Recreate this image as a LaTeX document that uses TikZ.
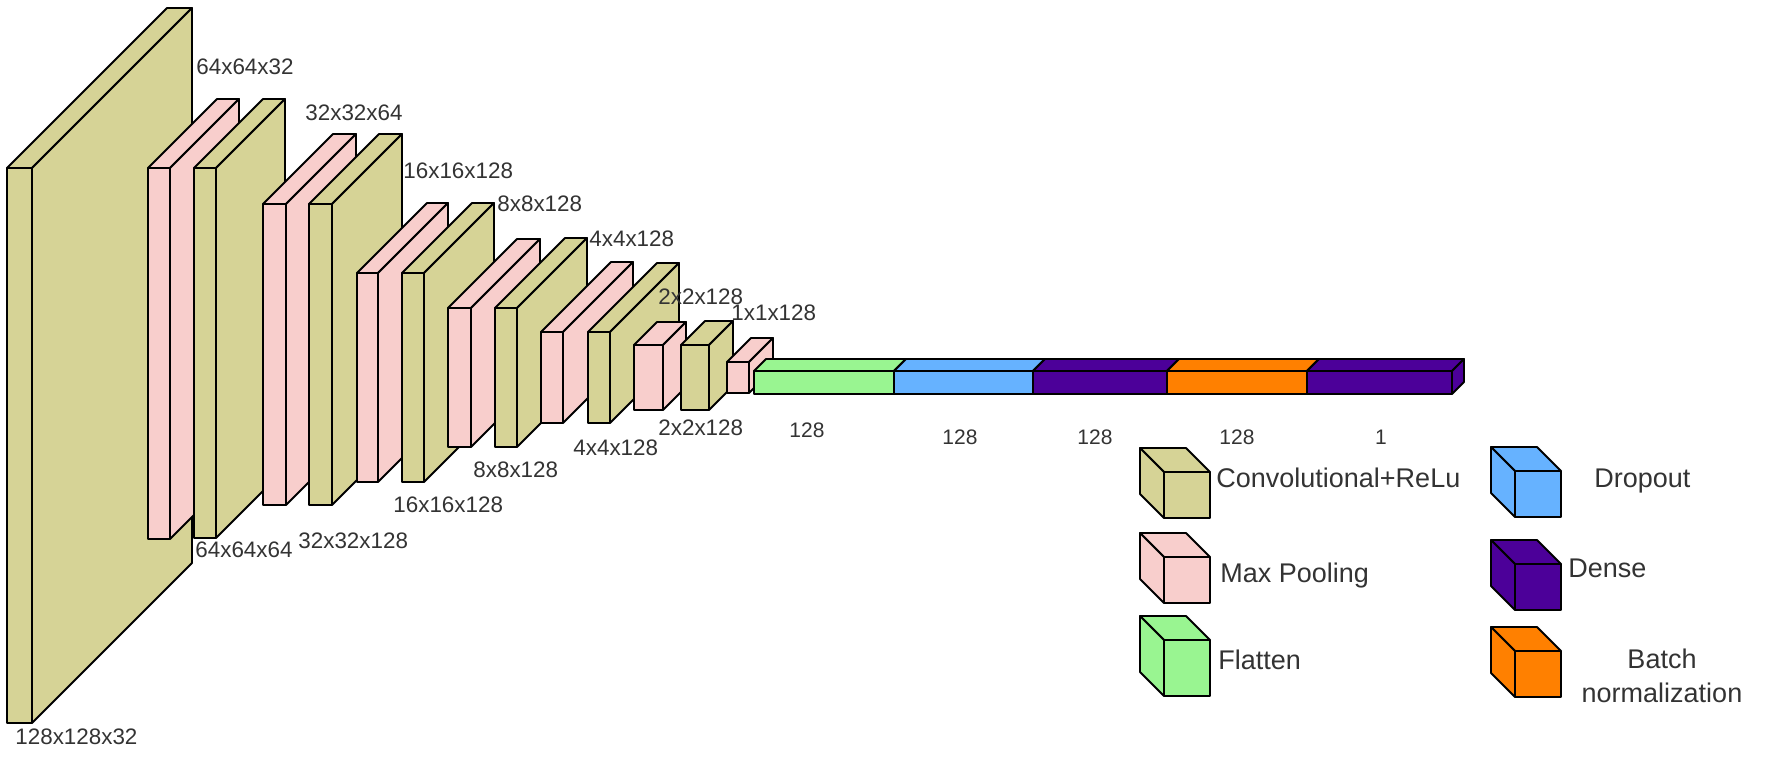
\documentclass[tikz,border=0pt]{standalone}
\usepackage{fontspec}
\setmainfont{Liberation Sans}
\definecolor{convcol}{RGB}{214,211,150}
\definecolor{poolcol}{RGB}{248,206,204}
\definecolor{flatcol}{RGB}{153,245,145}
\definecolor{dropcol}{RGB}{102,178,255}
\definecolor{densecol}{RGB}{76,0,153}
\definecolor{batchcol}{RGB}{255,128,0}
\tikzset{
  face/.style={draw=black, line width=0.9pt, line join=round},
  dimlabel/.style={inner sep=0pt, text depth=0pt, text=black!80, font=\fontsize{11.2}{13}\selectfont},
  barlabel/.style={inner sep=0pt, text depth=0pt, text=black!80, font=\fontsize{10.5}{12}\selectfont},
  legtext/.style={inner sep=0pt, text depth=0pt, text=black!80, font=\fontsize{13.5}{17}\selectfont}
}

\begin{document}
\begin{tikzpicture}[x=0.5pt, y=-0.5pt]
        \useasboundingbox (0,0) rectangle (1774,771);
        % feature maps: front x from/to, y from/to, depth, colour
        \foreach \xa/\xb/\ya/\yb/\d/\col in {7/32/168/723/160/convcol,
            148/170/168/539/69/poolcol, 194/216/168/538/69/convcol,
            263/286/204/505/70/poolcol, 309/332/204/505/70/convcol,
            357/378/273/482/70/poolcol, 402/424/273/482/70/convcol,
            448/471/308/447/69/poolcol, 495/517/308/447/70/convcol,
            541/563/332/423/70/poolcol, 588/610/332/423/69/convcol,
            634/663/345/410/23/poolcol, 681/709/345/410/24/convcol,
            727/749/362/393/24/poolcol}
        {
          \filldraw[face, fill=\col] (\xa,\ya) rectangle (\xb,\yb);
          \filldraw[face, fill=\col] (\xa,\ya) -- (\xa+\d,\ya-\d) -- (\xb+\d,\ya-\d) -- (\xb,\ya) -- cycle;
          \filldraw[face, fill=\col] (\xb,\ya) -- (\xb+\d,\ya-\d) -- (\xb+\d,\yb-\d) -- (\xb,\yb) -- cycle;
        }
        % flatten and dense part
        \foreach \xa/\xb/\col in {754/894/flatcol, 894/1033/dropcol, 1033/1167/densecol,
            1167/1307/batchcol, 1307/1452/densecol}
        {
          \filldraw[face, fill=\col] (\xa,371) rectangle (\xb,394);
          \filldraw[face, fill=\col] (\xa,371) -- (\xa+12,359) -- (\xb+12,359) -- (\xb,371) -- cycle;
          \filldraw[face, fill=\col] (\xb,371) -- (\xb+12,359) -- (\xb+12,382) -- (\xb,394) -- cycle;
        }
        % sizes
        \node[dimlabel, anchor=west] (c1top) at (196, 67) {64x64x32};
        \node[dimlabel, anchor=west] (c2top) at (305, 113) {32x32x64};
        \node[dimlabel, anchor=west] (c3top) at (403, 171) {16x16x128};
        \node[dimlabel, anchor=west] (c4top) at (497, 204) {8x8x128};
        \node[dimlabel, anchor=west] (c5top) at (589, 239) {4x4x128};
        \node[dimlabel, anchor=west] (c6top) at (658, 297) {2x2x128};
        \node[dimlabel, anchor=west] (p7top) at (731, 313) {1x1x128};
        \node[dimlabel, anchor=west] (inbot) at (15, 737) {128x128x32};
        \node[dimlabel, anchor=west] (c1bot) at (195, 550) {64x64x64};
        \node[dimlabel, anchor=west] (c2bot) at (298, 541) {32x32x128};
        \node[dimlabel, anchor=west] (c3bot) at (393, 505) {16x16x128};
        \node[dimlabel, anchor=west] (c4bot) at (473, 470) {8x8x128};
        \node[dimlabel, anchor=west] (c5bot) at (573, 448) {4x4x128};
        \node[dimlabel, anchor=west] (c6bot) at (658, 428) {2x2x128};
        \node[barlabel] (flatn) at (807, 430) {128};
        \node[barlabel] (dropn) at (960, 437) {128};
        \node[barlabel] (densen) at (1095, 437) {128};
        \node[barlabel] (batchn) at (1237, 437) {128};
        \node[barlabel] (outn) at (1381, 437) {1};
        % legend cubes: back corner x, y, height, colour
        \foreach \bx/\by/\h/\col in {1140/448/46/convcol, 1140/533/46/poolcol, 1140/616/56/flatcol,
            1491/447/46/dropcol, 1491/540/46/densecol, 1491/627/46/batchcol}
        {
          \filldraw[face, fill=\col] (\bx,\by) -- (\bx+46,\by) -- (\bx+70,\by+24) -- (\bx+24,\by+24) -- cycle;
          \filldraw[face, fill=\col] (\bx,\by) -- (\bx+24,\by+24) -- (\bx+24,\by+24+\h) -- (\bx,\by+\h) -- cycle;
          \filldraw[face, fill=\col] (\bx+24,\by+24) rectangle (\bx+70,\by+24+\h);
        }
        \node[legtext, anchor=west] (convleg) at (1216, 478) {Convolutional+ReLu};
        \node[legtext, anchor=west] (poolleg) at (1220, 573) {Max Pooling};
        \node[legtext, anchor=west] (flatleg) at (1218, 660) {Flatten};
        \node[legtext, anchor=west] (dropleg) at (1594, 478) {Dropout};
        \node[legtext, anchor=west] (denseleg) at (1568, 568) {Dense};
        \node[legtext, align=center] (batchleg) at (1662, 676) {Batch\\normalization};
      \end{tikzpicture}
\end{document}
